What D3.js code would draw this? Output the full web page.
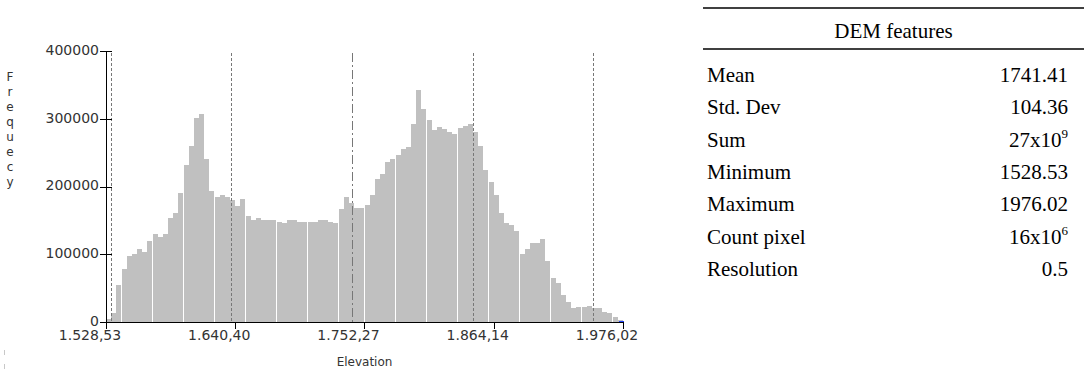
<!DOCTYPE html>
<html>
<head>
<meta charset="utf-8">
<script src="https://cdn.jsdelivr.net/npm/d3@7"></script>
<style>
  body { margin: 0; background: #fff; }
  svg { display: block; }
</style>
</head>
<body>
<div id="grafica"></div>
<script>
// histogram of the DEM elevations (100 bins between min and max)
var elevMin = 1528.53,
    elevMax = 1976.02;
var binCounts = [
  4000, 14000, 55000, 78000, 98000, 100000, 108000, 104000, 120000, 130000,
  126000, 130000, 153000, 161000, 191000, 232000, 260000, 301000, 307000, 240000,
  193000, 184000, 187000, 184000, 180000, 171000, 181000, 156000, 150000, 154000,
  150000, 150000, 150000, 147000, 146000, 151000, 150000, 147000, 147000, 147000,
  147000, 150000, 151000, 147000, 146000, 167000, 184000, 176000, 168000, 168000,
  173000, 187000, 211000, 218000, 236000, 241000, 246000, 255000, 258000, 292000,
  342000, 314000, 298000, 283000, 288000, 285000, 281000, 277000, 287000, 289000,
  292000, 281000, 260000, 224000, 207000, 187000, 161000, 146000, 143000, 134000,
  100000, 108000, 116000, 116000, 122000, 90000, 65000, 58000, 40000, 29000,
  21000, 22000, 22000, 24000, 20000, 20000, 15000, 13000, 7000, 3000
];
var xTicks = [1528.53, 1640.40, 1752.27, 1864.14, 1976.02];
var yTicks = [0, 100000, 200000, 300000, 400000];
var yLabel = "Frequecy";
var xLabel = "Elevation";

// table values
var statNames = ["Mean", "Std. Dev", "Sum", "Minimum", "Maximum", "Count pixel", "Resolution"];
var statValues = ["1741.41", "104.36", "27x10", "1528.53", "1976.02", "16x10", "0.5"];
var statExp = ["", "", "9", "", "", "6", ""];
var tableTitle = "DEM features";
var meanVal = 1741.41,
    stdVal = 104.36;

var svg = d3.select("#grafica")
  .append("svg")
  .attr("width", 1084)
  .attr("height", 380);

var plot = { left: 106, right: 623, top: 51, bottom: 322 };

var x = d3.scaleLinear()
  .domain([elevMin, elevMax])
  .range([plot.left, plot.right]);
var y = d3.scaleLinear()
  .domain([0, 400000])
  .range([plot.bottom, plot.top]);

var binW = (elevMax - elevMin) / binCounts.length;
var chartFont = "DejaVu Sans";

// ---- bars ----
svg.append("g")
  .selectAll("rect")
  .data(binCounts)
  .enter()
  .append("rect")
  .attr("x", function (d, i) { return Math.round(x(elevMin + i * binW)); })
  .attr("width", function (d, i) { return Math.floor(x(elevMin + (i + 1) * binW) - x(elevMin + i * binW)); })
  .attr("y", function (d) { return Math.round(y(d)); })
  .attr("height", function (d) { return plot.bottom - Math.round(y(d)); })
  .style("fill", "#c0c0c0");

// ---- mean and std dev lines ----
var sdLines = [-2, -1, 1, 2];
svg.append("g")
  .selectAll("line")
  .data(sdLines)
  .enter()
  .append("line")
  .attr("x1", function (d) { return Math.round(x(meanVal + d * stdVal)) + 0.5; })
  .attr("x2", function (d) { return Math.round(x(meanVal + d * stdVal)) + 0.5; })
  .attr("y1", plot.top + 2)
  .attr("y2", plot.bottom)
  .style("stroke", "#777")
  .style("stroke-width", 1)
  .style("stroke-dasharray", "3,2");

svg.append("line")
  .attr("x1", Math.round(x(meanVal)) + 0.5)
  .attr("x2", Math.round(x(meanVal)) + 0.5)
  .attr("y1", plot.top + 2)
  .attr("y2", plot.bottom)
  .style("stroke", "#777")
  .style("stroke-width", 1)
  .style("stroke-dasharray", "9,3,2,3");

// ---- axes ----
var loc = d3.formatLocale({ decimal: ",", thousands: ".", grouping: [3], currency: ["", ""] });
var fmtX = loc.format(",.2f");

// y axis
svg.append("line")
  .attr("x1", plot.left + 0.5).attr("x2", plot.left + 0.5)
  .attr("y1", plot.top).attr("y2", plot.bottom + 6)
  .style("stroke", "#000");
svg.append("g")
  .selectAll("line")
  .data(yTicks)
  .enter()
  .append("line")
  .attr("x1", plot.left - 6)
  .attr("x2", plot.left + 6)
  .attr("y1", function (d) { return Math.round(y(d)) + 0.5; })
  .attr("y2", function (d) { return Math.round(y(d)) + 0.5; })
  .style("stroke", "#000");
svg.append("g")
  .selectAll("text")
  .data(yTicks)
  .enter()
  .append("text")
  .attr("x", plot.left - 7)
  .attr("y", function (d) { return y(d) - 1; })
  .attr("dy", "0.35em")
  .attr("text-anchor", "end")
  .style("font-family", chartFont)
  .style("font-size", "14px")
  .style("fill", "#333")
  .text(function (d) { return d; });

// x axis
svg.append("line")
  .attr("x1", plot.left).attr("x2", plot.right + 1)
  .attr("y1", plot.bottom + 0.5).attr("y2", plot.bottom + 0.5)
  .style("stroke", "#000");
svg.append("g")
  .selectAll("line")
  .data(xTicks)
  .enter()
  .append("line")
  .attr("x1", function (d) { return Math.round(x(d)) + 0.5; })
  .attr("x2", function (d) { return Math.round(x(d)) + 0.5; })
  .attr("y1", plot.bottom)
  .attr("y2", plot.bottom + 7)
  .style("stroke", "#000");
svg.append("g")
  .selectAll("text")
  .data(xTicks)
  .enter()
  .append("text")
  .attr("x", function (d) { return x(d) - 16; })
  .attr("y", plot.bottom + 18)
  .attr("text-anchor", "middle")
  .style("font-family", chartFont)
  .style("font-size", "14px")
  .style("fill", "#333")
  .text(function (d) { return fmtX(d); });

// little marker at the end of the axis
svg.append("line")
  .attr("x1", plot.right - 4).attr("x2", plot.right + 1)
  .attr("y1", plot.bottom - 0.5).attr("y2", plot.bottom - 0.5)
  .style("stroke", "#1f3fff");

// faint marks in the bottom left corner
svg.append("g")
  .selectAll("line")
  .data([350, 364])
  .enter()
  .append("line")
  .attr("x1", 4.5).attr("x2", 4.5)
  .attr("y1", function (d) { return d; })
  .attr("y2", function (d) { return d + 5; })
  .style("stroke", "#c8c8c8");

// axis labels
svg.append("text")
  .attr("x", (plot.left + plot.right) / 2)
  .attr("y", 366)
  .attr("text-anchor", "middle")
  .style("font-family", chartFont)
  .style("font-size", "12px")
  .style("fill", "#333")
  .text(xLabel);

svg.append("text")
  .attr("x", 10)
  .attr("y", 81)
  .style("font-family", chartFont)
  .style("font-size", "12px")
  .style("fill", "#333")
  .selectAll("tspan")
  .data(yLabel.split(""))
  .enter()
  .append("tspan")
  .attr("x", 10)
  .attr("dy", function (d, i) { return i === 0 ? 0 : 15; })
  .attr("text-anchor", "middle")
  .text(function (d) { return d; });

// ---- DEM features table ----
var tab = { left: 703, right: 1084, labelX: 707, valueX: 1068 };
var tabFont = "Liberation Serif";

svg.append("line")
  .attr("x1", tab.left).attr("x2", tab.right)
  .attr("y1", 8).attr("y2", 8)
  .style("stroke", "#000").style("stroke-width", 1.5);
svg.append("line")
  .attr("x1", tab.left).attr("x2", tab.right)
  .attr("y1", 49).attr("y2", 49)
  .style("stroke", "#000").style("stroke-width", 1.5);

svg.append("text")
  .attr("x", (tab.left + tab.right) / 2)
  .attr("y", 38)
  .attr("text-anchor", "middle")
  .style("font-family", tabFont)
  .style("font-size", "21px")
  .text(tableTitle);

var rowY = d3.scaleLinear().domain([0, 1]).range([82, 114.3]);

svg.append("g")
  .selectAll("text")
  .data(statNames)
  .enter()
  .append("text")
  .attr("x", tab.labelX)
  .attr("y", function (d, i) { return rowY(i); })
  .style("font-family", tabFont)
  .style("font-size", "21px")
  .text(function (d) { return d; });

var vals = svg.append("g")
  .selectAll("text")
  .data(statValues)
  .enter()
  .append("text")
  .attr("x", tab.valueX)
  .attr("y", function (d, i) { return rowY(i); })
  .attr("text-anchor", "end")
  .style("font-family", tabFont)
  .style("font-size", "21px");
vals.append("tspan").text(function (d) { return d; });
vals.append("tspan")
  .attr("dy", -9)
  .style("font-size", "13px")
  .text(function (d, i) { return statExp[i]; });
</script>
</body>
</html>
